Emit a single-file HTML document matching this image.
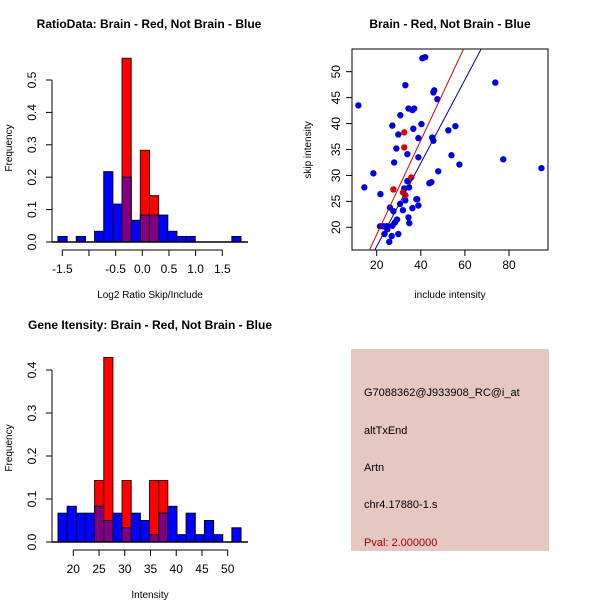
<!DOCTYPE html>
<html><head><meta charset="utf-8"><style>
html,body{margin:0;padding:0;background:#fff;}
svg{display:block;font-family:"Liberation Sans",Arial,sans-serif;}
</style></head><body>
<svg id="chart" width="600" height="600" viewBox="0 0 600 600" xmlns="http://www.w3.org/2000/svg">
<rect width="600" height="600" fill="#fff"/>
<g id="p1"></g>
<g id="p2"></g>
<g id="p3"></g>
<g id="p4">
<rect x="351" y="349" width="198" height="202" fill="#e6c8c2"/>
<text x="364" y="396" font-size="11" fill="#000">G7088362@J933908_RC@i_at</text>
<text x="364" y="434" font-size="11" fill="#000">altTxEnd</text>
<text x="364" y="471" font-size="11" fill="#000">Artn</text>
<text x="364" y="508" font-size="11" fill="#000">chr4.17880-1.s</text>
<text x="364" y="546" font-size="11" fill="#a00000">Pval: 2.000000</text>
</g>
</svg>
<script>
// Panel 1 data
const ratioBinStart = -1.581;
const ratioBinWidth = 0.1716;
const ratioBlue = [0.017,0,0.017,0,0.033,0.217,0.117,0.2,0.067,0.083,0.083,0.083,0.033,0.017,0.017,0,0,0,0,0.017];
const ratioRed  = [0,0,0,0,0,0,0,0.567,0,0.283,0.143,0,0,0,0,0,0,0,0,0];
const ratioXTicks = [-1.5,-1,-0.5,0,0.5,1,1.5];
const ratioXLabels = ["-1.5","","-0.5","0.0","0.5","1.0","1.5"];
const ratioYTicks = [0,0.1,0.2,0.3,0.4,0.5];
const ratioYLabels = ["0.0","0.1","0.2","0.3","0.4","0.5"];
// Panel 3 data
const intBinStart = 17.03;
const intBinWidth = 1.778;
const intBlue = [0.067,0.083,0.067,0.067,0.083,0.05,0.067,0.033,0.067,0.05,0.017,0.067,0.083,0.017,0.067,0.017,0.05,0.017,0,0.033];
const intRed  = [0,0,0,0,0.143,0.429,0,0.143,0,0,0.143,0.143,0,0,0,0,0,0,0,0];
const intXTicks = [20,25,30,35,40,45,50];
const intYTicks = [0,0.1,0.2,0.3,0.4];
const intYLabels = ["0.0","0.1","0.2","0.3","0.4"];
// Panel 2 data
const blueX = [11.7,14.4,18.5,21.7,21.5,23,24.2,24.8,23.5,24.8,25.7,26.8,26,27.6,27.1,28.2,29.2,29.8,27.1,27.9,28.9,29.8,30.7,33,30.6,31.9,32.5,33,33.9,34.7,33.9,34.4,36.2,37,36.6,34.4,34.8,36.2,38,38.4,38.9,38.9,38.9,40.3,40.7,42,43.9,44.8,45.2,45.7,45.7,46.1,47.5,47.9,52.5,55.7,53.9,57.5,73.8,77.4,94.7];
const blueY = [43.5,27.7,30.4,26.4,20.2,20.2,20.2,20.2,18.7,19.6,17.2,18.3,23.8,23.1,20.3,20.9,21.5,18.7,39.6,32.5,35.2,37.9,41.6,47.4,24.5,23.3,27.5,25.2,28.9,27.7,34.1,42.9,42.6,42.9,39,21.9,20.8,23.7,25.4,25.4,24.2,37.2,33.5,39.9,52.6,52.8,28.5,28.7,37.3,36.7,46,46.4,44.7,30.8,38.7,39.5,33.9,32.1,47.9,33.1,31.4];
const redX = [32.5,32.5,35.7,27.6,31.9,33];
const redY = [38.3,35.4,29.6,27.3,26.7,26.2];
const redFit = [0.44,0.908];
const blueFit = [0.26,0.803];
const scXTicks = [20,40,60,80];
const scYTicks = [20,25,30,35,40,45,50];

const NS="http://www.w3.org/2000/svg";
function mk(parent,tag,attrs){const e=document.createElementNS(NS,tag);for(const k in attrs)e.setAttribute(k,attrs[k]);parent.appendChild(e);return e;}
function txt(parent,x,y,s,attrs){const e=mk(parent,"text",Object.assign({x:x,y:y,"font-size":12,"text-anchor":"middle",fill:"#000"},attrs||{}));e.textContent=s;return e;}

function histogram(g, cfg){
  const sx=v=>cfg.x0px+(v-cfg.x0)*cfg.kx;
  const sy=v=>cfg.y0px-v*cfg.ky;
  cfg.blue.forEach((b,i)=>{
    const r=cfg.red[i];
    const xl=sx(cfg.start+i*cfg.width), xr=sx(cfg.start+(i+1)*cfg.width);
    if(r>b){
      const e=mk(g,"rect",{x:xl,y:sy(r),width:xr-xl,height:sy(0)-sy(r),fill:"#ff0000",stroke:"#400000","stroke-width":1});
      
      
    }
    if(b>0){
      const e=mk(g,"rect",{x:xl,y:sy(b),width:xr-xl,height:sy(0)-sy(b),fill:(r>=b?"#800080":"#0000ff"),stroke:"#000030","stroke-width":1});
      
      
      const ov=Math.min(b,r);
      if(ov>0){
        const o=mk(g,"rect",{x:xl,y:sy(ov),width:xr-xl,height:sy(0)-sy(ov),fill:"#800080",stroke:"#200020","stroke-width":1});
        
        
      }
    }
  });
  const bl=mk(g,"line",{x1:52,x2:cfg.baseEnd,y1:sy(0),y2:sy(0),stroke:"#000","stroke-width":1.5});
  
  
  const xa=mk(g,"line",{x1:sx(cfg.xt[0]),x2:sx(cfg.xt[cfg.xt.length-1]),y1:cfg.axisY,y2:cfg.axisY,stroke:"#000"});
  
  
  cfg.xt.forEach((t,i)=>{
    mk(g,"line",{x1:sx(t),x2:sx(t),y1:cfg.axisY,y2:cfg.axisY+6,stroke:"#000"});
    if(cfg.xl[i]){const e=txt(g,sx(t),cfg.axisY+23,cfg.xl[i]);
      
      }
  });
  const ya=mk(g,"line",{x1:52,x2:52,y1:sy(0),y2:sy(cfg.yt[cfg.yt.length-1]),stroke:"#000"});
  
  
  cfg.yt.forEach((t,i)=>{
    mk(g,"line",{x1:46,x2:52,y1:sy(t),y2:sy(t),stroke:"#000"});
    const e=txt(g,36,sy(t),cfg.yl[i],{transform:`rotate(-90 36 ${sy(t)})`});
    
    
  });
  const yt=txt(g,12,cfg.yTitleY,"Frequency",{transform:`rotate(-90 12 ${cfg.yTitleY})`,"font-size":10});
  
  
  const xt=txt(g,150,cfg.xTitleY,cfg.xTitle,{"font-size":10});
  
  
  const tt=txt(g,cfg.titleX,cfg.titleY,cfg.title,{"font-weight":"bold","font-size":12});
  
  
}

histogram(document.getElementById("p1"),{x0:-1.5,x0px:62.3,kx:53.33,y0px:242,ky:324,start:ratioBinStart,width:ratioBinWidth,
  blue:ratioBlue,red:ratioRed,xt:ratioXTicks,xl:ratioXLabels,yt:ratioYTicks,yl:ratioYLabels,axisY:250,baseEnd:248,
  yTitleY:148,xTitleY:298,xTitle:"Log2 Ratio Skip/Include",title:"RatioData: Brain - Red, Not Brain - Blue",titleX:149,titleY:28});
histogram(document.getElementById("p3"),{x0:20,x0px:73.3,kx:5.147,y0px:542,ky:430,start:intBinStart,width:intBinWidth,
  blue:intBlue,red:intRed,xt:intXTicks,xl:intXTicks.map(String),yt:intYTicks,yl:intYLabels,axisY:550,baseEnd:248,
  yTitleY:448,xTitleY:598,xTitle:"Intensity",title:"Gene Itensity: Brain - Red, Not Brain - Blue",titleX:150,titleY:329});

(function(){
  const g=document.getElementById("p2");
  const L=352,R=548,T=49,B=250;
  const sx=v=>376.7+(v-20)*2.205;
  const sy=v=>227.3-(v-20)*5.187;
  const box=mk(g,"rect",{x:L,y:T,width:R-L,height:B-T,fill:"none",stroke:"#000"});
  
  
  scXTicks.forEach(t=>{
    mk(g,"line",{x1:sx(t),x2:sx(t),y1:B,y2:B+6,stroke:"#000"});
    const e=txt(g,sx(t),B+19,String(t));
    
    
  });
  scYTicks.forEach(t=>{
    mk(g,"line",{x1:L-6,x2:L,y1:sy(t),y2:sy(t),stroke:"#000"});
    const e=txt(g,L-12,sy(t),String(t),{transform:`rotate(-90 ${L-12} ${sy(t)})`});
    
    
  });
  const cp=mk(g,"clipPath",{id:"scclip"});
  mk(cp,"rect",{x:L,y:T,width:R-L,height:B-T});
  const pg=mk(g,"g",{"clip-path":"url(#scclip)"});
  blueX.forEach((x,i)=>{
    const c=mk(pg,"circle",{cx:sx(x),cy:sy(blueY[i]),r:3.2,fill:"#0000dd"});
    
    
  });
  redX.forEach((x,i)=>{
    const c=mk(pg,"circle",{cx:sx(x),cy:sy(redY[i]),r:3.2,fill:"#dd0000"});
    
    
  });
  [[redFit,"#cc0000","red-fit-line"],[blueFit,"#000099","blue-fit-line"]].forEach(([f,col,nm])=>{
    const xa=0,xb=100;
    const l=mk(pg,"line",{x1:sx(xa),y1:sy(f[0]+f[1]*xa),x2:sx(xb),y2:sy(f[0]+f[1]*xb),stroke:col,"stroke-width":1});
    
    
  });
  const xt=txt(g,450,298,"include intensity",{"font-size":10});
  
  
  const yt=txt(g,311,150,"skip intensity",{"font-size":10,transform:"rotate(-90 311 150)"});
  
  
  const tt=txt(g,450,28,"Brain - Red, Not Brain - Blue",{"font-weight":"bold","font-size":12});
  
  
})();
</script>
</body></html>
